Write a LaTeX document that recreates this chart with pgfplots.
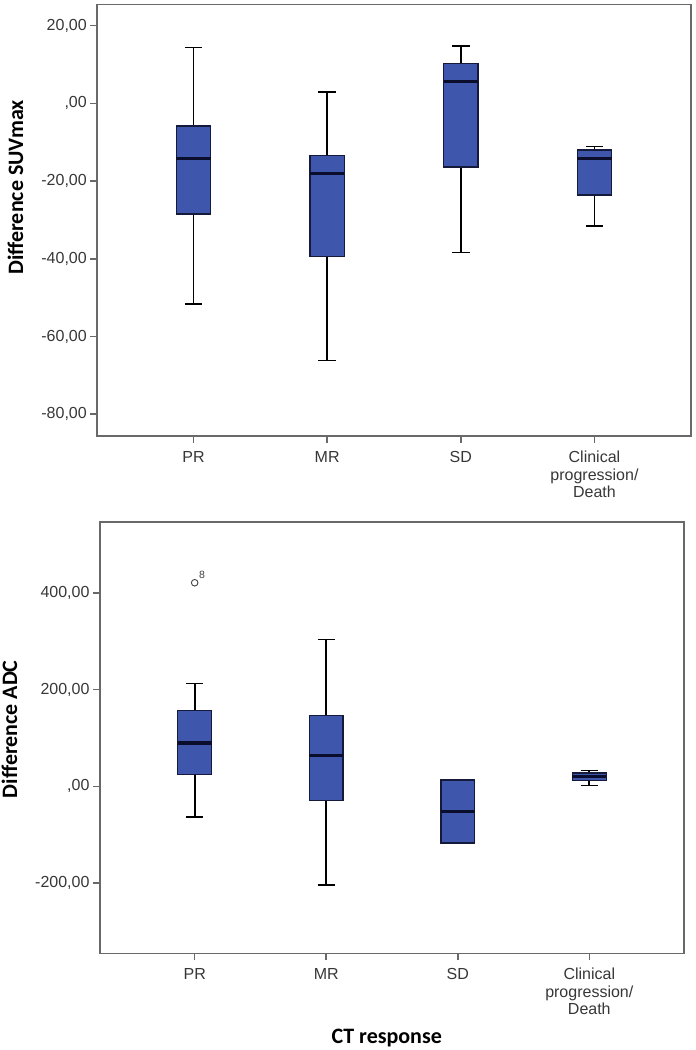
\documentclass[border=0pt]{standalone}
\usepackage{fontspec}
\setmainfont{Liberation Sans}
\newfontfamily\carlito{Carlito}
\usepackage{pgfplots}
\pgfplotsset{compat=1.18}

\definecolor{spssblue}{RGB}{62,87,172}
\definecolor{boxedge}{RGB}{22,26,58}
\definecolor{mednavy}{RGB}{10,14,44}
\definecolor{framegray}{RGB}{105,105,105}
\definecolor{ticktext}{RGB}{55,55,55}

\pgfplotsset{
  spssbox/.style={
    scale only axis,
    unbounded coords=jump,
    xmin=0.28, xmax=4.72,
    xtick={1,2,3,4},
    xticklabels={PR,MR,SD,{Clinical\\progression/\\Death}},
    tickpos=left,
    tick align=outside,
    major tick length=7pt,
    tick style={draw=framegray, line width=1.5pt},
    axis line style={draw=framegray, line width=1.6pt},
    ticklabel style={font=\fontsize{16}{17.5}\selectfont, text=ticktext},
    xticklabel style={align=center, yshift=-4.5pt},
    ylabel style={font=\carlito\bfseries\fontsize{22}{24}\selectfont, anchor=center},
    xlabel style={font=\carlito\bfseries\fontsize{22}{24}\selectfont, anchor=center},
  },
  whisk/.style={draw=black, line width=1.6pt},
  box/.style={fill=spssblue, draw=boxedge, line width=1.3pt},
  med/.style={draw=mednavy, line width=3.2pt},
}

\begin{document}
\begin{tikzpicture}
\useasboundingbox (0,0) rectangle (696pt,1050pt);

% Difference SUVmax
\begin{axis}[spssbox,
  at={(97.3pt,614pt)}, anchor=south west,
  width=593.4pt, height=431.5pt,
  ymin=-85.6, ymax=25.46,
  ytick={-80,-60,-40,-20,0,20},
  yticklabels={{-80,00},{-60,00},{-40,00},{-20,00},{,00},{20,00}},
  ylabel={Difference SUVmax},
  ylabel style={at={(axis description cs:-0.138,0.576)}},
]
% whiskers and caps
\addplot[whisk] coordinates {
  (1,14.43) (1,-5.85) (1,nan) (1,-28.45) (1,-51.7) (1,nan)
  (0.935,14.43) (1.065,14.43) (1,nan) (0.935,-51.7) (1.065,-51.7)};
\addplot[whisk] coordinates {
  (2,2.9) (2,-13.4) (2,nan) (2,-39.35) (2,-66.2) (2,nan)
  (1.935,2.9) (2.065,2.9) (2,nan) (1.935,-66.2) (2.065,-66.2)};
\addplot[whisk] coordinates {
  (3,14.7) (3,10.2) (3,nan) (3,-16.4) (3,-38.4) (3,nan)
  (2.935,14.7) (3.065,14.7) (3,nan) (2.935,-38.4) (3.065,-38.4)};
\addplot[whisk] coordinates {
  (4,-11.1) (4,-12.0) (4,nan) (4,-23.6) (4,-31.6) (4,nan)
  (3.935,-11.1) (4.065,-11.1) (4,nan) (3.935,-31.6) (4.065,-31.6)};
% boxes (lower to upper quartile)
\addplot[box] coordinates {(0.8725,-28.45) (1.1275,-28.45) (1.1275,-5.85) (0.8725,-5.85)} --cycle;
\addplot[box] coordinates {(1.8725,-39.35) (2.1275,-39.35) (2.1275,-13.4) (1.8725,-13.4)} --cycle;
\addplot[box] coordinates {(2.8725,-16.4) (3.1275,-16.4) (3.1275,10.2) (2.8725,10.2)} --cycle;
\addplot[box] coordinates {(3.8725,-23.6) (4.1275,-23.6) (4.1275,-12.0) (3.8725,-12.0)} --cycle;
% medians
\addplot[med] coordinates {
  (0.8725,-14.1) (1.1275,-14.1) (nan,nan)
  (1.8725,-18.05) (2.1275,-18.05) (nan,nan)
  (2.8725,5.57) (3.1275,5.57) (nan,nan)
  (3.8725,-14.1) (4.1275,-14.1)};
\end{axis}

% Difference ADC
\begin{axis}[spssbox,
  at={(100pt,96.7pt)}, anchor=south west,
  width=584pt, height=431pt,
  ymin=-344.8, ymax=545.6,
  ytick={-200,0,200,400},
  yticklabels={{-200,00},{,00},{200,00},{400,00}},
  ylabel={Difference ADC},
  ylabel style={at={(axis description cs:-0.155,0.52)}},
  xlabel={CT response},
  xlabel style={at={(axis description cs:0.491,-0.196)}},
]
% whiskers and caps (SD has none)
\addplot[whisk] coordinates {
  (1,212.4) (1,157.2) (1,nan) (1,24.2) (1,-63.3) (1,nan)
  (0.935,212.4) (1.065,212.4) (1,nan) (0.935,-63.3) (1.065,-63.3)};
\addplot[whisk] coordinates {
  (2,303.4) (2,146.2) (2,nan) (2,-29.6) (2,-203.9) (2,nan)
  (1.935,303.4) (2.065,303.4) (2,nan) (1.935,-203.9) (2.065,-203.9)};
\addplot[whisk] coordinates {
  (4,32.5) (4,27.7) (4,nan) (4,12.4) (4,2.1) (4,nan)
  (3.935,32.5) (4.065,32.5) (4,nan) (3.935,2.1) (4.065,2.1)};
% boxes
\addplot[box] coordinates {(0.8715,24.2) (1.1285,24.2) (1.1285,157.2) (0.8715,157.2)} --cycle;
\addplot[box] coordinates {(1.8715,-29.6) (2.1285,-29.6) (2.1285,146.2) (1.8715,146.2)} --cycle;
\addplot[box] coordinates {(2.8715,-117.1) (3.1285,-117.1) (3.1285,13.2) (2.8715,13.2)} --cycle;
\addplot[box] coordinates {(3.8715,12.4) (4.1285,12.4) (4.1285,27.7) (3.8715,27.7)} --cycle;
% medians
\addplot[med] coordinates {
  (0.8715,89.8) (1.1285,89.8) (nan,nan)
  (1.8715,64.1) (2.1285,64.1) (nan,nan)
  (2.8715,-51.7) (3.1285,-51.7) (nan,nan)
  (3.8715,20.7) (4.1285,20.7)};
% outlier, case 8
\addplot[only marks, mark=o, mark size=3.3pt,
  mark options={line width=0.9pt, draw=black!75}]
  coordinates {(1,420.7)};
\node[font=\fontsize{10.5}{11}\selectfont, text=black!75, inner sep=0pt, anchor=south west]
  at (axis cs:1.032,428) {8};
\end{axis}
\end{tikzpicture}
\end{document}
